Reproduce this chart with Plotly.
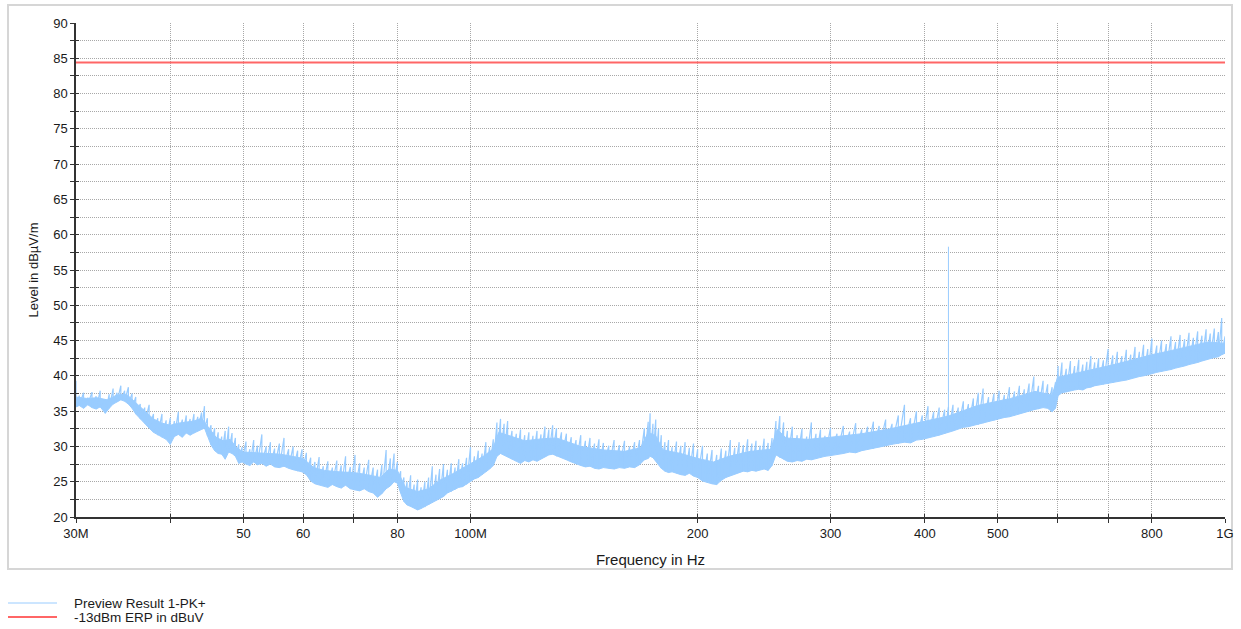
import plotly.graph_objects as go

# Peak scan 30 MHz - 1 GHz, PK+ detector, levels in dBµV/m.
# Per frequency bin: highest peak (level_upper) and lowest floor (level_lower).
freq_mhz = [
    30.0, 30.3, 30.7, 31.1, 31.5, 31.9, 32.3, 32.8, 33.2, 33.6, 34.0, 34.4, 34.8, 35.2, 35.6,
    36.0, 36.5, 37.0, 37.5, 38.0, 38.5, 39.0, 39.5, 40.0, 40.5, 41.0, 41.5, 42.0, 42.5, 43.0,
    43.5, 44.0, 44.4, 44.8, 45.3, 45.8, 46.3, 46.8, 47.3, 47.8, 48.3, 48.8, 49.3, 49.8, 50.4,
    51.0, 51.6, 52.2, 52.9, 53.6, 54.3, 55.0, 55.8, 56.6, 57.4, 58.2, 59.0, 59.8, 60.6, 61.4,
    62.2, 63.0, 63.8, 64.7, 65.6, 66.5, 67.4, 68.3, 69.3, 70.3, 71.3, 72.3, 73.3, 74.3, 75.3,
    76.3, 77.3, 78.3, 79.2, 80.0, 80.8, 81.6, 82.4, 83.3, 84.2, 85.1, 86.0, 87.0, 88.0, 89.0,
    90.0, 91.0, 92.1, 93.2, 94.3, 95.4, 96.5, 97.6, 98.8, 100.0, 101.2, 102.4, 103.6, 104.8, 106.0,
    107.2, 108.4, 109.6, 110.8, 112.0, 113.5, 115.0, 116.5, 118.0, 119.5, 121.0, 122.5, 124.0, 125.5, 127.0,
    128.5, 130.0, 132.0, 134.0, 136.0, 138.0, 140.0, 142.0, 144.0, 146.0, 148.0, 150.0, 152.5, 155.0, 157.5,
    160.0, 162.5, 165.0, 167.5, 170.0, 172.0, 173.0, 174.5, 176.0, 177.5, 179.0, 181.0, 183.0, 185.0, 187.5,
    190.0, 192.5, 195.0, 197.5, 200.0, 203.0, 206.0, 209.0, 212.0, 215.0, 218.0, 221.0, 224.0, 227.0, 230.0,
    233.0, 236.0, 239.0, 242.0, 245.0, 248.0, 251.0, 254.0, 257.0, 260.0, 263.0, 267.0, 271.0, 275.0, 279.0,
    283.0, 287.0, 291.0, 295.0, 300.0, 306.0, 312.0, 318.0, 324.0, 330.0, 336.0, 342.0, 348.0, 355.0, 362.0,
    369.0, 376.0, 383.0, 390.0, 397.0, 404.0, 411.0, 418.0, 425.0, 430.0, 436.0, 443.0, 450.0, 457.0, 464.0,
    471.0, 478.0, 486.0, 494.0, 502.0, 510.0, 518.0, 526.0, 534.0, 542.0, 550.0, 558.0, 566.0, 574.0, 582.0,
    590.0, 596.0, 601.0, 608.0, 616.0, 624.0, 632.0, 640.0, 648.0, 656.0, 664.0, 672.0, 680.0, 690.0, 700.0,
    710.0, 720.0, 730.0, 740.0, 750.0, 760.0, 770.0, 780.0, 790.0, 800.0, 812.0, 824.0, 836.0, 848.0, 860.0,
    872.0, 884.0, 896.0, 908.0, 920.0, 932.0, 944.0, 956.0, 968.0, 980.0, 990.0, 1000.0,
]

level_upper = [
    39.3, 37.2, 37.6, 36.9, 37.7, 37.1, 37.9, 36.6, 37.4, 38.2, 37.6, 38.6, 37.9, 38.4, 37.5,
    37.0, 36.0, 35.5, 35.9, 34.6, 34.0, 34.6, 33.7, 34.0, 33.6, 34.9, 33.8, 34.4, 33.9, 34.6,
    34.2, 34.8, 35.7, 34.0, 33.0, 32.6, 32.0, 31.4, 32.2, 32.8, 31.9, 31.2, 30.3, 29.9, 30.7,
    29.6, 30.9, 30.1, 31.7, 30.0, 30.6, 29.7, 30.4, 31.2, 29.6, 30.0, 29.4, 29.6, 29.1, 28.4,
    27.8, 28.5, 27.2, 27.9, 27.0, 28.0, 27.3, 28.6, 27.1, 28.8, 27.6, 27.0, 28.1, 27.0, 26.7,
    27.4, 29.5, 28.3, 29.0, 27.8, 26.5, 25.6, 25.0, 25.9, 24.6, 25.3, 24.2, 25.0, 25.6, 27.2,
    26.0, 26.8, 27.5, 26.7, 27.6, 27.0, 28.2, 27.6, 28.4, 29.9, 28.6, 29.4, 29.0, 30.6, 29.9,
    31.0, 33.4, 33.9, 33.2, 33.6, 32.2, 31.8, 32.4, 31.6, 32.0, 31.5, 32.2, 31.7, 32.8, 32.4,
    33.0, 32.6, 32.0, 31.8, 31.3, 30.9, 31.6, 30.8, 31.2, 30.4, 31.0, 30.5, 30.1, 30.9, 30.2,
    30.8, 30.0, 30.6, 30.9, 32.6, 33.5, 34.7, 33.2, 33.8, 32.5, 31.6, 30.6, 30.9, 29.9, 30.7,
    30.1, 30.6, 29.8, 30.4, 29.6, 30.1, 29.0, 29.5, 28.8, 29.7, 29.4, 30.9, 29.8, 30.6, 30.2,
    31.0, 30.4, 30.8, 30.1, 31.1, 30.5, 31.2, 33.6, 34.3, 33.4, 32.2, 32.8, 31.6, 32.5, 31.4,
    33.4, 31.8, 32.4, 31.5, 32.6, 31.8, 32.9, 32.1, 33.3, 32.4, 32.8, 33.5, 32.9, 33.8, 33.2,
    34.4, 35.9, 34.0, 35.0, 34.4, 35.7, 34.9, 35.5, 35.2, 35.6, 35.9, 35.5, 36.4, 36.0, 36.8,
    37.6, 38.2, 37.0, 37.5, 37.9, 37.3, 38.4, 37.8, 38.6, 38.1, 38.9, 39.9, 38.6, 39.3, 38.8,
    38.4, 39.1, 41.4, 41.9, 41.0, 42.1, 41.4, 42.3, 41.6, 42.0, 42.8, 41.9, 42.5, 42.2, 43.8,
    42.9, 43.4, 42.8, 43.7, 43.0, 44.1, 43.4, 44.4, 43.8, 45.3, 44.3, 45.0, 44.5, 45.6, 44.8,
    45.8, 45.2, 46.1, 45.4, 46.3, 45.7, 46.6, 46.0, 46.7, 46.2, 48.2, 45.6,
]

level_lower = [
    35.6, 35.8, 35.4, 35.9, 35.5, 35.3, 35.6, 34.7, 35.4, 36.0, 36.3, 36.6, 36.4, 36.0, 35.4,
    34.6, 33.9, 33.3, 32.6, 32.0, 31.6, 31.3, 31.0, 30.3, 31.4, 31.7, 31.3, 31.9, 31.6, 31.9,
    32.2, 32.4, 32.6, 31.5, 30.2, 29.4, 29.0, 28.9, 28.2, 29.2, 29.0, 28.6, 27.6, 27.8, 27.5,
    27.3, 27.8, 27.4, 27.6, 27.2, 27.5, 27.1, 27.0, 27.2, 26.9, 26.7, 26.5, 26.4, 26.0, 25.1,
    24.7, 24.6, 24.4, 24.2, 24.6, 24.3, 24.1, 24.5, 24.0, 23.8, 23.7, 24.0, 23.6, 23.4, 22.8,
    23.3, 24.0, 24.4, 25.0, 24.8, 23.4, 22.2, 21.7, 21.5, 21.3, 21.0, 21.2, 21.4, 21.7, 22.0,
    22.3, 22.6, 22.9, 23.4, 23.6, 23.9, 24.2, 24.3, 24.6, 25.0, 25.4, 25.6, 26.0, 26.4, 26.8,
    27.3, 28.6, 29.0, 28.8, 28.5, 28.2, 27.9, 27.6, 28.0, 27.8, 28.1, 27.9, 28.3, 28.5, 28.8,
    28.9, 28.6, 28.4, 28.1, 27.8, 27.5, 27.3, 27.1, 27.2, 26.9, 26.8, 27.0, 26.9, 26.8, 27.0,
    26.9, 27.1, 27.0, 27.4, 28.1, 28.3, 28.6, 28.4, 28.0, 27.4, 26.9, 26.5, 26.3, 26.4, 26.2,
    26.0, 25.9, 26.2, 25.8, 25.6, 25.1, 24.9, 24.7, 24.6, 25.2, 25.6, 25.9, 26.1, 26.3, 26.5,
    26.4, 26.6, 26.5, 26.7, 26.8, 26.6, 27.3, 28.8, 28.4, 28.2, 27.9, 27.8, 28.0, 27.9, 28.2,
    28.1, 28.3, 28.4, 28.6, 28.7, 28.9, 29.0, 29.2, 29.1, 29.4, 29.6, 29.7, 29.9, 30.1, 30.3,
    30.4, 30.6, 30.5, 30.9, 31.0, 31.2, 31.4, 31.6, 31.8, 32.0, 32.2, 32.5, 32.7, 32.8, 33.0,
    33.1, 33.3, 33.5, 33.7, 33.9, 34.1, 34.2, 34.4, 34.6, 34.8, 35.0, 35.2, 35.3, 35.5, 35.4,
    34.9, 35.4, 37.2, 37.6, 37.7, 37.9, 38.0, 38.1, 38.0, 38.3, 38.4, 38.6, 38.7, 38.8, 38.9,
    39.0, 39.2, 39.3, 39.4, 39.6, 39.7, 39.9, 40.0, 40.1, 40.3, 40.5, 40.6, 40.8, 40.9, 41.1,
    41.3, 41.4, 41.6, 41.8, 41.9, 42.1, 42.3, 42.4, 42.6, 42.7, 43.0, 43.2,
]

# Top of the dense part of the trace (below the individual peaks)
core_mhz = [
    30, 31, 32, 33, 34, 35, 36, 37, 38, 39, 40, 41, 42, 43, 44, 45, 46, 47, 48, 49,
    50, 52, 54, 56, 58, 60, 62, 64, 67, 70, 73, 76, 78, 80, 82, 85, 88, 91, 95, 100,
    104, 107, 109, 112, 118, 125, 130, 140, 150, 160, 168, 172, 176, 180, 190, 200, 210, 220, 235, 250,
    255, 262, 280, 300, 330, 360, 400, 430, 470, 520, 560, 590, 600, 650, 700, 750, 800, 850, 900, 950,
    1000,
]
level_core = [
    37.0, 36.8, 36.9, 36.6, 37.3, 37.4, 36.2, 35.0, 33.9, 33.3, 33.0, 33.3, 33.4, 33.6, 34.0, 32.6, 31.3, 30.8, 31.0, 29.8,
    29.2, 29.1, 29.0, 28.9, 28.6, 28.3, 27.0, 26.6, 26.4, 26.3, 26.0, 25.6, 26.8, 26.6, 24.2, 23.6, 24.0, 25.2, 26.2, 27.6,
    28.6, 29.6, 32.0, 31.6, 30.8, 31.1, 31.2, 30.0, 29.5, 29.3, 29.8, 32.0, 31.5, 29.5, 29.0, 28.3, 27.8, 28.6, 29.3, 29.6,
    32.4, 31.2, 31.0, 31.3, 31.8, 32.5, 33.6, 34.3, 35.8, 36.8, 37.8, 37.3, 39.8, 40.6, 41.4, 42.2, 43.0, 43.6, 44.2, 44.8,
    44.6,
]

# Narrow-band emission at 430 MHz
spike_mhz = 430.0
spike_base = 33.0
spike_peak = 58.3

# Limit line
limit_level = 84.4
limit_mhz = [30.0, 1000.0]

# X-axis ticks
tick_mhz = [30, 40, 50, 60, 70, 80, 100, 200, 300, 400, 500, 600, 700, 800, 1000]
tick_text = ["30M", "", "50", "60", "", "80", "100M", "200", "300", "400", "500", "", "", "800", "1G"]

legend_names = ["Preview Result 1-PK+", "-13dBm ERP in dBuV"]

TRACE_BLUE = "#99ccff"
LIMIT_RED = "#ff6666"
GRID = "#a8a8a8"
AXIS = "#333333"
FONT = "Liberation Sans, Arial, sans-serif"

hz = [f * 1e6 for f in freq_mhz]
core_hz = [f * 1e6 for f in core_mhz]

fig = go.Figure()

# Dense body of the trace: floor up to the core top
fig.add_trace(go.Scatter(
    x=core_hz + hz[::-1],
    y=level_core + level_lower[::-1],
    mode="lines",
    fill="toself",
    fillcolor=TRACE_BLUE,
    line=dict(color=TRACE_BLUE, width=1),
    showlegend=False,
    hoverinfo="skip",
))

# Sweep line: in each bin it runs from the peak down to the floor, then up to the next peak
sweep_x, sweep_y = [], []
for f, lo, up in zip(hz, level_lower, level_upper):
    sweep_x += [f, f]
    sweep_y += [up, lo]
fig.add_trace(go.Scatter(
    x=sweep_x, y=sweep_y,
    mode="lines",
    line=dict(color=TRACE_BLUE, width=1.2),
    name=legend_names[0],
    showlegend=False,
    hoverinfo="skip",
))

fig.add_trace(go.Scatter(
    x=[spike_mhz * 1e6, spike_mhz * 1e6],
    y=[spike_base, spike_peak],
    mode="lines",
    line=dict(color=TRACE_BLUE, width=1),
    showlegend=False,
))

# Limit line on the overlay axes (same ranges) so the crossing tick marks get drawn
fig.add_trace(go.Scatter(
    x=[f * 1e6 for f in limit_mhz],
    y=[limit_level, limit_level],
    mode="lines",
    line=dict(color=LIMIT_RED, width=2),
    name=legend_names[1],
    showlegend=False,
    xaxis="x2",
    yaxis="y2",
))

# Plot area geometry (px)
W, H = 1241, 629
ML, MR, MT, MB = 76, 16, 23, 112
PW, PH = W - ML - MR, H - MT - MB


def px_x(px):
    return (px - ML) / PW


def px_y(py):
    return (H - MB - py) / PH


shapes = [
    dict(
        type="rect",
        xref="paper", yref="paper",
        x0=px_x(8), x1=px_x(1232),
        y0=px_y(569), y1=px_y(5),
        line=dict(color="#d6d6d6", width=2),
        fillcolor="rgba(0,0,0,0)",
        layer="below",
    )
]
annotations = []
legend_colors = [(TRACE_BLUE, 1), (LIMIT_RED, 2)]
for i, (name, (col, lw)) in enumerate(zip(legend_names, legend_colors)):
    yy = px_y(603 + 14 * i)
    shapes.append(dict(
        type="line", xref="paper", yref="paper",
        x0=px_x(8), x1=px_x(57), y0=yy, y1=yy,
        line=dict(color=col, width=lw),
    ))
    annotations.append(dict(
        text=name, xref="paper", yref="paper",
        x=px_x(72), y=yy, xanchor="left", yanchor="middle",
        showarrow=False, font=dict(family=FONT, size=13.5, color="#1a1a1a"),
    ))

x_range = [7 + 0.47712125472, 9]
y_range = [20, 90]

fig.update_layout(
    width=W,
    height=H,
    margin=dict(l=ML, r=MR, t=MT, b=MB, pad=0),
    paper_bgcolor="white",
    plot_bgcolor="white",
    font=dict(family=FONT, size=13, color="#1a1a1a"),
    showlegend=False,
    shapes=shapes,
    annotations=annotations,
    xaxis=dict(
        type="log",
        range=x_range,
        tickvals=[t * 1e6 for t in tick_mhz],
        ticktext=tick_text,
        ticks="outside",
        ticklen=4,
        tickwidth=1,
        tickcolor=AXIS,
        showline=True,
        linecolor=AXIS,
        linewidth=1.5,
        showgrid=True,
        gridcolor=GRID,
        griddash="1px,1px",
        gridwidth=1,
        zeroline=False,
        automargin=False,
        tickfont=dict(size=13),
        title=dict(text="Frequency in Hz", font=dict(size=15), standoff=14),
    ),
    yaxis=dict(
        range=y_range,
        dtick=5,
        tick0=20,
        ticks="outside",
        ticklen=4,
        tickwidth=1,
        tickcolor=AXIS,
        showline=True,
        linecolor=AXIS,
        linewidth=1.5,
        showgrid=True,
        gridcolor=GRID,
        griddash="1px,1px",
        gridwidth=1,
        zeroline=False,
        automargin=False,
        tickfont=dict(size=13),
        minor=dict(
            dtick=2.5,
            tick0=20,
            ticks="outside",
            ticklen=4,
            tickcolor=AXIS,
            showgrid=True,
            gridcolor=GRID,
            griddash="1px,1px",
        ),
        title=dict(text="Level in dBµV/m", font=dict(size=13), standoff=12),
    ),
    xaxis2=dict(
        type="log",
        range=x_range,
        overlaying="x",
        side="bottom",
        anchor="y2",
        tickvals=[t * 1e6 for t in tick_mhz],
        ticks="inside",
        ticklen=3,
        tickcolor=AXIS,
        showticklabels=False,
        showgrid=False,
        showline=False,
        zeroline=False,
        automargin=False,
    ),
    yaxis2=dict(
        range=y_range,
        overlaying="y",
        side="left",
        anchor="x2",
        dtick=2.5,
        tick0=20,
        ticks="inside",
        ticklen=3,
        tickcolor=AXIS,
        showticklabels=False,
        showgrid=False,
        showline=False,
        zeroline=False,
        automargin=False,
    ),
)

fig.write_html("out.html")
